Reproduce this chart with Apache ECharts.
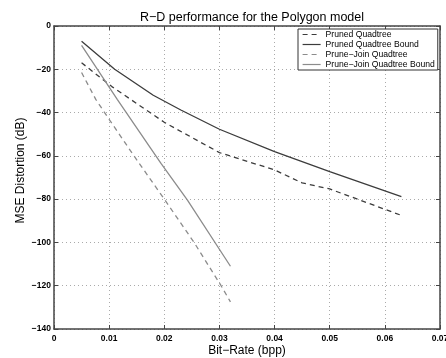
<!DOCTYPE html>
<html><head><meta charset="utf-8">
<script src="https://cdn.jsdelivr.net/npm/echarts@6/dist/echarts.min.js"></script>
<style>html,body{margin:0;padding:0;background:#fff}#c{width:446px;height:358px}</style>
</head><body><div id="c"></div>
<script>
const title = "R\u2212D performance for the Polygon model";
const xName = "Bit\u2212Rate (bpp)";
const yName = "MSE Distortion (dB)";
const seriesNames = ["Pruned Quadtree", "Pruned Quadtree Bound", "Prune\u2212Join Quadtree", "Prune\u2212Join Quadtree Bound"];
const prunedQuadtree = [[0.005,-17],[0.0105,-28],[0.02,-44.5],[0.03,-58.5],[0.04,-66.5],[0.045,-72.5],[0.05,-75.3],[0.063,-87.5]];
const prunedBound = [[0.005,-7],[0.011,-20],[0.018,-32],[0.023,-38.8],[0.03,-47.7],[0.04,-58],[0.05,-67.3],[0.063,-78.8]];
const pruneJoinQuadtree = [[0.005,-21.5],[0.0076,-34],[0.0097,-42],[0.0145,-60],[0.02,-80],[0.0254,-100],[0.0303,-120],[0.032,-127.5]];
const pruneJoinBound = [[0.005,-9],[0.0115,-34],[0.0194,-63.5],[0.0242,-80.5],[0.032,-111]];
const xTicks = [0,0.01,0.02,0.03,0.04,0.05,0.06,0.07];
const yTicks = [0,-20,-40,-60,-80,-100,-120,-140];

const dark = '#3c3c3c', light = '#8c8c8c';
const font = 'Liberation Sans, Arial, Helvetica, sans-serif';
const fmt = v => String(v).replace('-', '\u2212');
const chart = echarts.init(document.getElementById('c'), null, {renderer:'canvas'});
const mkLine = (name, data, color, dashed) => ({
  name, type:'line', data, symbol:'none', showSymbol:false, smooth:false,
  lineStyle:{color, width:1.3, type: dashed ? [5,4] : 'solid'},
  itemStyle:{color}, emphasis:{disabled:true}, z: 3
});
chart.setOption({
  animation:false,
  backgroundColor:'#fff',
  title:{text:title, left:247, top:6, textAlign:'center',
    textStyle:{fontFamily:font, fontSize:12.5, fontWeight:'normal', color:'#000'}},
  legend:{
    orient:'vertical', left:298, top:29, itemWidth:18, itemHeight:9, itemGap:1,
    padding:[1,3,1,4], backgroundColor:'#fff', borderColor:'#333', borderWidth:1,
    itemStyle:{opacity:0}, lineStyle:{width:1.2},
    data: seriesNames.map(n=>({name:n})),
    textStyle:{fontFamily:font, fontSize:8.6, fontWeight:'normal', color:'#000'}
  },
  grid:{left:54, right:6, top:26, bottom:29, containLabel:false, outerBoundsMode:'none', show:false},
  xAxis:[{
    type:'value', min:0, max:0.07, interval:0.01,
    name:xName, nameLocation:'middle', nameGap:16, nameMoveOverlap:false,
    nameTextStyle:{fontFamily:font, fontSize:12, color:'#000', verticalAlign:'top'},
    axisLine:{show:true, onZero:false, lineStyle:{color:'#444', width:1.5}},
    axisTick:{show:true, inside:true, length:4, lineStyle:{color:'#444'}},
    axisLabel:{fontFamily:font, fontSize:8.5, fontWeight:'bold', color:'#000', margin:5,
      formatter:v=>xTicks.includes(Math.round(v*100)/100) ? String(Math.round(v*100)/100) : ''},
    splitLine:{show:true, lineStyle:{color:'#aaa', type:[1,3], width:1}}
  },{
    type:'value', min:0, max:0.07, interval:0.01, position:'top',
    axisLine:{show:true, onZero:false, lineStyle:{color:'#444', width:1.5}},
    axisTick:{show:true, inside:true, length:4, lineStyle:{color:'#444'}},
    axisLabel:{show:false}, splitLine:{show:false}
  }],
  yAxis:[{
    type:'value', min:-140, max:0, interval:20,
    name:yName, nameLocation:'middle', nameGap:27, nameRotate:90, nameMoveOverlap:false,
    nameTextStyle:{fontFamily:font, fontSize:12, color:'#000', padding:[0,0,0,14]},
    axisLine:{show:true, onZero:false, lineStyle:{color:'#444', width:1.5}},
    axisTick:{show:true, inside:true, length:4, lineStyle:{color:'#444'}},
    axisLabel:{fontFamily:font, fontSize:8.5, fontWeight:'bold', color:'#000', margin:3,
      formatter:v=>yTicks.includes(v) ? fmt(v) : ''},
    splitLine:{show:true, lineStyle:{color:'#aaa', type:[1,3], width:1}}
  },{
    type:'value', min:-140, max:0, interval:20, position:'right',
    axisLine:{show:true, onZero:false, lineStyle:{color:'#444', width:1.5}},
    axisTick:{show:true, inside:true, length:4, lineStyle:{color:'#444'}},
    axisLabel:{show:false}, splitLine:{show:false}
  }],
  series:[
    mkLine(seriesNames[0], prunedQuadtree, dark, true),
    mkLine(seriesNames[1], prunedBound, dark, false),
    mkLine(seriesNames[2], pruneJoinQuadtree, light, true),
    mkLine(seriesNames[3], pruneJoinBound, light, false)
  ]
});
</script></body></html>
